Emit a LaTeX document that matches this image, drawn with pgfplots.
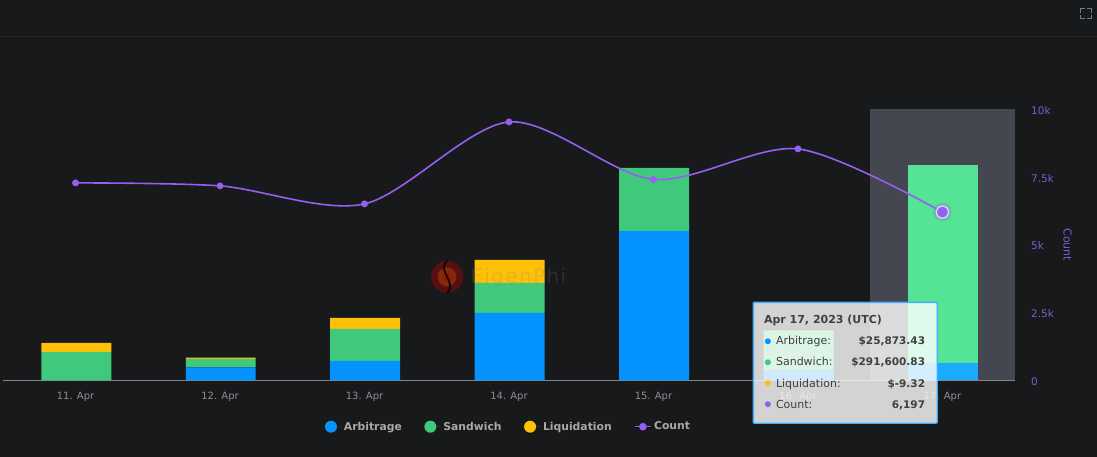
\documentclass[border=0pt]{standalone}
\usepackage{fontspec}
\setmainfont{DejaVu Sans}
\usepackage{pgfplots}
\usepackage{pgfplotstable}
\pgfplotsset{compat=1.18}

\definecolor{bg}{HTML}{18191B}
\definecolor{band}{HTML}{44474F}
\definecolor{arb}{HTML}{0593FF}
\definecolor{sand}{HTML}{40C87C}
\definecolor{liq}{HTML}{FFC107}
\definecolor{arbhi}{HTML}{1AABFF}
\definecolor{sandhi}{HTML}{55E495}
\definecolor{cnt}{HTML}{9560F0}
\definecolor{cnttext}{HTML}{7C5CCB}
\definecolor{labelgrey}{HTML}{8E8F92}
\definecolor{legendgrey}{HTML}{A8A9AB}

% dollars per day; last two columns are the hovered 17 Apr bar
\pgfplotstableread{
x arb sand liq arbh sandh
0 0 42000 13250 0 0
1 18900 12800 1500 0 0
2 28700 47100 16200 0 0
3 99400 44200 33900 0 0
4 220200 92800 0 0 0
5 14700 58900 0 0 0
6 0 0 0 25873 291601
}\money

\pgfplotstableread{
x count
0 7274
1 7164
2 6500
3 9520
4 7400
5 8527
6 6197
}\counts

\pgfplotsset{
  panel/.style={
    at={(3pt,76.5pt)}, anchor=south west,
    scale only axis, width=1012pt, height=271.5pt,
    xmin=-0.5, xmax=6.5, clip=false,
  },
  dot legend/.style={legend image code/.code={
    \path (0pt,0pt) -- (17pt,0pt);
    \path[##1] (6pt,0pt) circle (6pt);}},
}

\begin{document}
\begin{tikzpicture}[x=1pt,y=1pt]
\fill[bg] (0,0) rectangle (1097,457);
\draw[line width=0.7pt,color=white!7!bg] (0,421) -- (1097,421);
% fullscreen icon
\draw[color=teal!55!white!70!bg,line width=1pt]
  (1080.5,444) -- (1080.5,448.5) -- (1085,448.5)
  (1087,448.5) -- (1091.5,448.5) -- (1091.5,444)
  (1091.5,442) -- (1091.5,438) -- (1087,438)
  (1085,438) -- (1080.5,438) -- (1080.5,442);
% hover band behind 17 Apr
\fill[band] (870.4,76.5) rectangle (1015,348);

\begin{axis}[panel,
  ybar stacked, bar width=70pt, bar shift=0.7pt,
  ymin=0, ymax=400000,
  hide y axis,
  axis x line*=bottom,
  axis line style={color=labelgrey!110!white,line width=0.9pt,-},
  xtick=data,
  xticklabels={11. Apr,12. Apr,13. Apr,14. Apr,15. Apr,16. Apr,17. Apr},
  major tick length=0pt,
  xticklabel style={color=labelgrey,font=\fontsize{10}{12}\selectfont,yshift=-8pt},
  legend style={at={(0.4995,-0.1712)},anchor=center,draw=none,fill=none,
    text=legendgrey,font=\fontsize{10.8}{12}\selectfont\bfseries,legend columns=-1,
    /tikz/every even column/.append style={column sep=20.5pt}},
  legend cell align=left,
]
\addplot[dot legend,draw=none,fill=arb] table[x=x,y=arb] {\money};
\addplot[dot legend,draw=none,fill=sand] table[x=x,y=sand] {\money};
\addplot[dot legend,draw=none,fill=liq] table[x=x,y=liq] {\money};
\addplot[draw=none,fill=arbhi,forget plot] table[x=x,y=arbh] {\money};
\addplot[draw=none,fill=sandhi,forget plot] table[x=x,y=sandh] {\money};
\addlegendimage{legend image code/.code={
  \path (0pt,0pt) -- (17pt,0pt);
  \draw[cnt,line width=1.5pt] (0pt,0pt) -- (16pt,0pt);
  \fill[cnt] (8pt,0pt) circle (3.6pt);}}
\legend{Arbitrage,Sandwich,Liquidation,Count}
\end{axis}

% watermark sits over the bars
\fill[red!80!black,fill opacity=0.36] (447,180) circle (16);
\fill[orange,fill opacity=0.25] (447,180) circle (9.5);
\fill[red!70!black,fill opacity=0.4] (447,180) circle (4.5);
\draw[color=black,opacity=0.8,line width=1.8pt] (447,196) .. controls (436,186) and (458,174) .. (447,164);
\node[anchor=west,inner sep=0pt,text=gray,text opacity=0.2,font=\fontsize{20}{20}\selectfont\addfontfeature{LetterSpace=7}] at (470,179) {EigenPhi};

\begin{axis}[panel,
  ymin=0, ymax=10000,
  hide x axis,
  axis y line*=right,
  axis line style={draw=none},
  ytick={0,2500,5000,7500,10000},
  yticklabels={0,2.5k,5k,7.5k,10k},
  scaled y ticks=false,
  major tick length=0pt,
  yticklabel style={color=cnttext,font=\fontsize{10.5}{12}\selectfont,anchor=west,xshift=13pt,yshift=-1.5pt},
  ylabel={Count},
  ylabel style={color=cnttext,font=\fontsize{11}{12}\selectfont,rotate=180,
    at={(axis description cs:1.0523,0.499)},anchor=center},
]
\addplot[cnt,line width=1.6pt,smooth,tension=0.5,mark=*,mark size=3.2pt,
  mark options={fill=cnt,draw=cnt,line width=0.4pt}] table[x=x,y=count] {\counts};
\addplot[only marks,mark=*,mark size=9pt,
  mark options={fill=cnt,draw=cnt,line width=0.4pt,opacity=0.25}] coordinates {(6,6197)};
\addplot[only marks,mark=*,mark size=6pt,
  mark options={fill=cnt,draw=white!75!cnt,line width=1.2pt}] coordinates {(6,6197)};
\end{axis}

% tooltip
\fill[white,fill opacity=0.81] (753.5,33.5) rectangle (937.5,154.5);
\draw[color=arb!75!white,line width=1.4pt,rounded corners=1pt] (753.5,33.5) rectangle (937.5,154.5);
\begin{scope}[every node/.style={inner sep=0pt,text=black!75,font=\fontsize{11}{12}\selectfont}]
\node[anchor=base west,font=\fontsize{11}{12}\selectfont\bfseries] at (764,133) {Apr 17, 2023 (UTC)};
\fill[arb] (768,115.5) circle (3);
\fill[sand] (768,94.5) circle (3);
\fill[liq] (768,73.5) circle (3);
\fill[cnt] (768,52.5) circle (3);
\node[anchor=base west] at (776,112) {Arbitrage:};
\node[anchor=base west] at (776,91) {Sandwich:};
\node[anchor=base west] at (776,69) {Liquidation:};
\node[anchor=base west] at (776,48) {Count:};
\node[anchor=base east,font=\fontsize{10.5}{12}\selectfont\bfseries] at (925.5,112) {\$25,873.43};
\node[anchor=base east,font=\fontsize{10.5}{12}\selectfont\bfseries] at (925.5,91) {\$291,600.83};
\node[anchor=base east,font=\fontsize{10.5}{12}\selectfont\bfseries] at (925.5,69) {\$-9.32};
\node[anchor=base east,font=\fontsize{10.5}{12}\selectfont\bfseries] at (925.5,48) {6,197};
\end{scope}
\end{tikzpicture}
\end{document}
